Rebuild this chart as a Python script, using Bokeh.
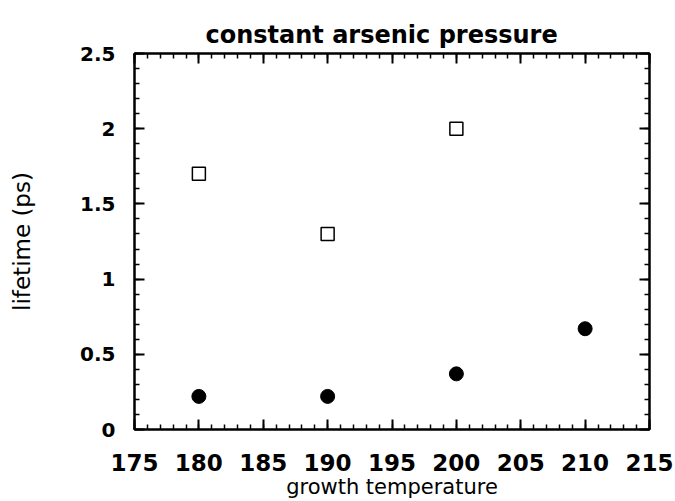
from bokeh.plotting import figure
from bokeh.models import LinearAxis, Range1d, FixedTicker, CustomJSTickFormatter
from bokeh.embed import file_html
from bokeh.resources import INLINE

temp_open = [180, 190, 200]
life_open = [1.7, 1.3, 2.0]
temp_filled = [180, 190, 200, 210]
life_filled = [0.22, 0.22, 0.37, 0.67]

x_ticks = [175, 180, 185, 190, 195, 200, 205, 210, 215]
y_ticks = [0, 0.5, 1, 1.5, 2, 2.5]
x_minor = list(range(175, 216))
y_minor = [i / 10 for i in range(0, 26)]

FONT = "DejaVu Sans"

p = figure(width=675, height=501, output_backend="svg", toolbar_location=None,
           x_range=Range1d(175, 215), y_range=Range1d(0, 2.5),
           min_border_left=134, min_border_right=26, min_border_top=53, min_border_bottom=72,
           x_axis_location=None, y_axis_location=None)
p.grid.visible = False
p.outline_line_color = "black"
p.outline_line_width = 2
p.background_fill_color = "white"
p.border_fill_color = "white"

p.title.text = "constant arsenic pressure"
p.title.align = "left"
p.title.offset = 71
p.title.text_font = FONT
p.title.text_font_size = "24px"
p.title.text_font_style = "bold"
p.title.text_color = "black"

def style(ax, labels=True):
    ax.major_tick_in = 10
    ax.major_tick_out = 0
    ax.minor_tick_in = 5
    ax.minor_tick_out = 0
    ax.axis_line_width = 2
    ax.major_tick_line_width = 2
    ax.minor_tick_line_width = 1.5
    ax.major_label_text_font = FONT
    ax.major_label_text_font_style = "bold"
    ax.major_label_text_color = "black"
    ax.axis_label_text_font = FONT
    ax.axis_label_text_font_style = "normal"
    ax.axis_label_text_color = "black"
    if not labels:
        ax.formatter = CustomJSTickFormatter(code="return ''")
        ax.major_label_standoff = 0

xb = LinearAxis(ticker=FixedTicker(ticks=x_ticks, minor_ticks=x_minor), axis_label="growth temperature")
style(xb)
xb.major_label_text_font_size = "23px"
xb.major_label_standoff = 24
xb.axis_label_text_font_size = "21px"
xb.axis_label_standoff = 1
p.add_layout(xb, "below")

yl = LinearAxis(ticker=FixedTicker(ticks=y_ticks, minor_ticks=y_minor), axis_label="lifetime (ps)")
style(yl)
yl.major_label_text_font_size = "20px"
yl.major_label_standoff = 19
yl.axis_label_text_font_size = "23px"
yl.axis_label_standoff = 42
p.add_layout(yl, "left")

xt = LinearAxis(ticker=FixedTicker(ticks=x_ticks, minor_ticks=x_minor))
style(xt, labels=False)
xt.major_label_standoff = 10
p.add_layout(xt, "above")

yr = LinearAxis(ticker=FixedTicker(ticks=y_ticks, minor_ticks=y_minor))
style(yr, labels=False)
p.add_layout(yr, "right")

p.scatter(temp_open, life_open, marker="square", size=13, fill_color="white",
          line_color="black", line_width=1.5)
p.scatter(temp_filled, life_filled, marker="circle", size=14, fill_color="black",
          line_color="black")

open("out.html", "w").write(file_html(p, INLINE))
